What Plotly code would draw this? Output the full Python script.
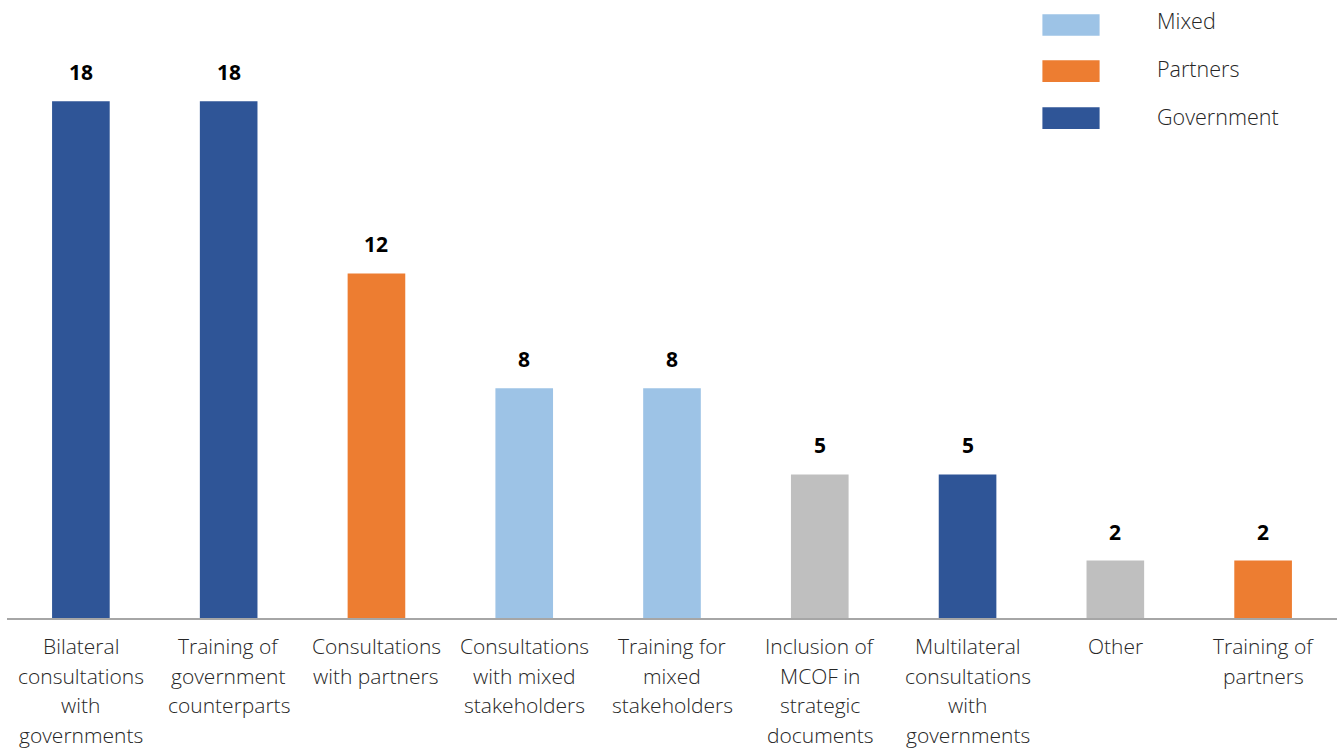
import plotly.graph_objects as go

# Activities and the number of times each was reported
categories = [
    "Bilateral<br>consultations<br>with<br>governments",
    "Training of<br>government<br>counterparts",
    "Consultations<br>with partners",
    "Consultations<br>with mixed<br>stakeholders",
    "Training for<br>mixed<br>stakeholders",
    "Inclusion of<br>MCOF in<br>strategic<br>documents",
    "Multilateral<br>consultations<br>with<br>governments",
    "Other",
    "Training of<br>partners",
]
values = [18, 18, 12, 8, 8, 5, 5, 2, 2]
groups = ["Government", "Government", "Partners", "Mixed", "Mixed",
          "None", "Government", "None", "Partners"]

group_colors = {
    "Mixed": "#9DC3E6",
    "Partners": "#ED7D31",
    "Government": "#2F5597",
    "None": "#BFBFBF",
}
legend_groups = ["Mixed", "Partners", "Government"]

FONT = "Open Sans"
TEXT = "#262626"
xpos = list(range(len(categories)))

fig = go.Figure()
fig.add_trace(go.Bar(
    x=xpos,
    y=values,
    marker=dict(color=[group_colors[g] for g in groups], line=dict(width=0)),
    width=0.39,
    showlegend=False,
    hoverinfo="skip",
))

# Value labels above each bar
for x, v in zip(xpos, values):
    fig.add_annotation(
        x=x, y=v, text=f"<b>{v}</b>", showarrow=False,
        yanchor="bottom", yshift=13,
        font=dict(family=FONT, size=21, color="#000000"),
    )

# Category labels under the axis, one line each with generous leading
LINE_GAP = 29.5
for x, label in zip(xpos, categories):
    for k, line in enumerate(label.split("<br>")):
        fig.add_annotation(
            x=x, xref="x", y=0, yref="paper", text=line,
            showarrow=False, xanchor="center", yanchor="middle",
            yshift=-(28 + LINE_GAP * k),
            font=dict(family=FONT, size=21, color=TEXT, weight=300),
        )

# Legend drawn as swatches with labels in the upper right
swatch_rows = [0.9834, 0.907, 0.829]
label_rows = [0.9917, 0.912, 0.8325]
for name, ys, yt in zip(legend_groups, swatch_rows, label_rows):
    fig.add_shape(
        type="rect", xref="paper", yref="paper",
        x0=0.7785, x1=0.8215, y0=ys - 0.018, y1=ys + 0.018,
        fillcolor=group_colors[name], line=dict(width=0),
    )
    fig.add_annotation(
        xref="paper", yref="paper", x=0.8635, y=yt, text=name,
        showarrow=False, xanchor="left", yanchor="middle",
        font=dict(family=FONT, size=21.5, color=TEXT, weight=300),
    )

fig.update_layout(
    width=1341, height=751,
    margin=dict(l=7, r=4, t=15, b=133),
    paper_bgcolor="white", plot_bgcolor="white",
    font=dict(family=FONT, size=20, color=TEXT),
    xaxis=dict(
        tickmode="array", tickvals=xpos, showticklabels=False,
        range=[-0.5, len(categories) - 0.5],
        showline=True, linecolor="#A6A6A6", linewidth=1.5,
        ticks="", showgrid=False, zeroline=False,
    ),
    yaxis=dict(
        range=[0, 21], visible=False, showgrid=False, zeroline=False,
    ),
)

fig.write_html("out.html")
